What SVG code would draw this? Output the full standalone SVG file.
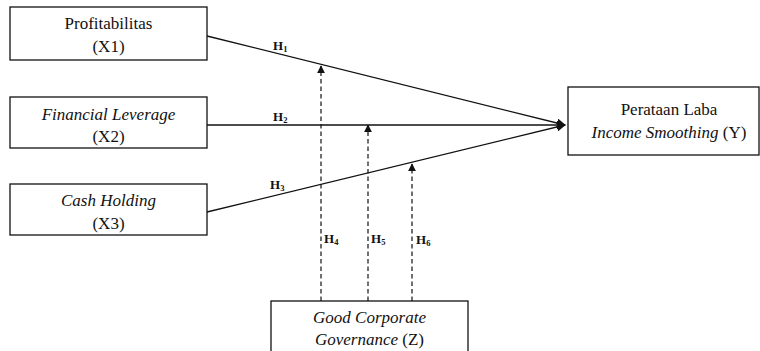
<svg xmlns="http://www.w3.org/2000/svg" width="760" height="351" viewBox="0 0 760 351">
<style>
.box{fill:#fff;stroke:#111;stroke-width:1.3}
.t{font-family:'Liberation Serif','Times New Roman','DejaVu Serif',serif;font-size:17px;fill:#111;text-anchor:middle}
.i{font-style:italic}
.h{font-family:'Liberation Serif','Times New Roman','DejaVu Serif',serif;font-size:13px;font-weight:bold;fill:#111}
.s{font-size:8.5px}
.ln{stroke:#111;stroke-width:1.3;fill:none}
.dl{stroke:#111;stroke-width:1.2;fill:none;stroke-dasharray:4.5,3}
</style>
<defs>
<marker id="ah" viewBox="0 0 10 10" refX="9" refY="5" markerWidth="9" markerHeight="9" markerUnits="userSpaceOnUse" orient="auto">
<path d="M0,0 L10,5 L0,10 z" fill="#111"/>
</marker>
<marker id="ad" viewBox="0 0 10 10" refX="9" refY="5" markerWidth="8" markerHeight="8" markerUnits="userSpaceOnUse" orient="auto">
<path d="M0,0 L10,5 L0,10 z" fill="#111"/>
</marker>
</defs>
<rect width="760" height="351" fill="#fff"/>
<g id="connectors">
<line class="ln" x1="207" y1="36" x2="565" y2="125" marker-end="url(#ah)"/>
<line class="ln" x1="207" y1="125" x2="565" y2="125" marker-end="url(#ah)"/>
<line class="ln" x1="207" y1="212" x2="565" y2="125" marker-end="url(#ah)"/>
<line class="dl" x1="321" y1="301" x2="321" y2="66" marker-end="url(#ad)"/>
<line class="dl" x1="368" y1="301" x2="368" y2="125" marker-end="url(#ad)"/>
<line class="dl" x1="412" y1="301" x2="412" y2="164" marker-end="url(#ad)"/>
<text class="h" x="273" y="50">H<tspan class="s" dy="2">1</tspan></text>
<text class="h" x="273" y="121">H<tspan class="s" dy="2">2</tspan></text>
<text class="h" x="270" y="189">H<tspan class="s" dy="2">3</tspan></text>
<text class="h" x="324" y="243">H<tspan class="s" dy="2">4</tspan></text>
<text class="h" x="371" y="243">H<tspan class="s" dy="2">5</tspan></text>
<text class="h" x="416" y="244">H<tspan class="s" dy="2">6</tspan></text>
</g>
<g id="x1">
<rect class="box" x="10" y="7" width="197" height="53"/>
<text class="t" x="108.5" y="29">Profitabilitas</text>
<text class="t" x="108.5" y="52">(X1)</text>
</g>
<g id="x2">
<rect class="box" x="10" y="97" width="197" height="51"/>
<text class="t i" x="108.5" y="120">Financial Leverage</text>
<text class="t" x="108.5" y="142">(X2)</text>
</g>
<g id="x3">
<rect class="box" x="10" y="184" width="197" height="51"/>
<text class="t i" x="108.5" y="206">Cash Holding</text>
<text class="t" x="108.5" y="229">(X3)</text>
</g>
<g id="y">
<rect class="box" x="568" y="87" width="191" height="68"/>
<text class="t" x="669" y="115">Perataan Laba</text>
<text class="t" x="669" y="138"><tspan class="i">Income Smoothing</tspan> (Y)</text>
</g>
<g id="z">
<rect class="box" x="271" y="301" width="197" height="60"/>
<text class="t i" x="369.5" y="323">Good Corporate</text>
<text class="t" x="369.5" y="345"><tspan class="i">Governance</tspan> (Z)</text>
</g>
</svg>
